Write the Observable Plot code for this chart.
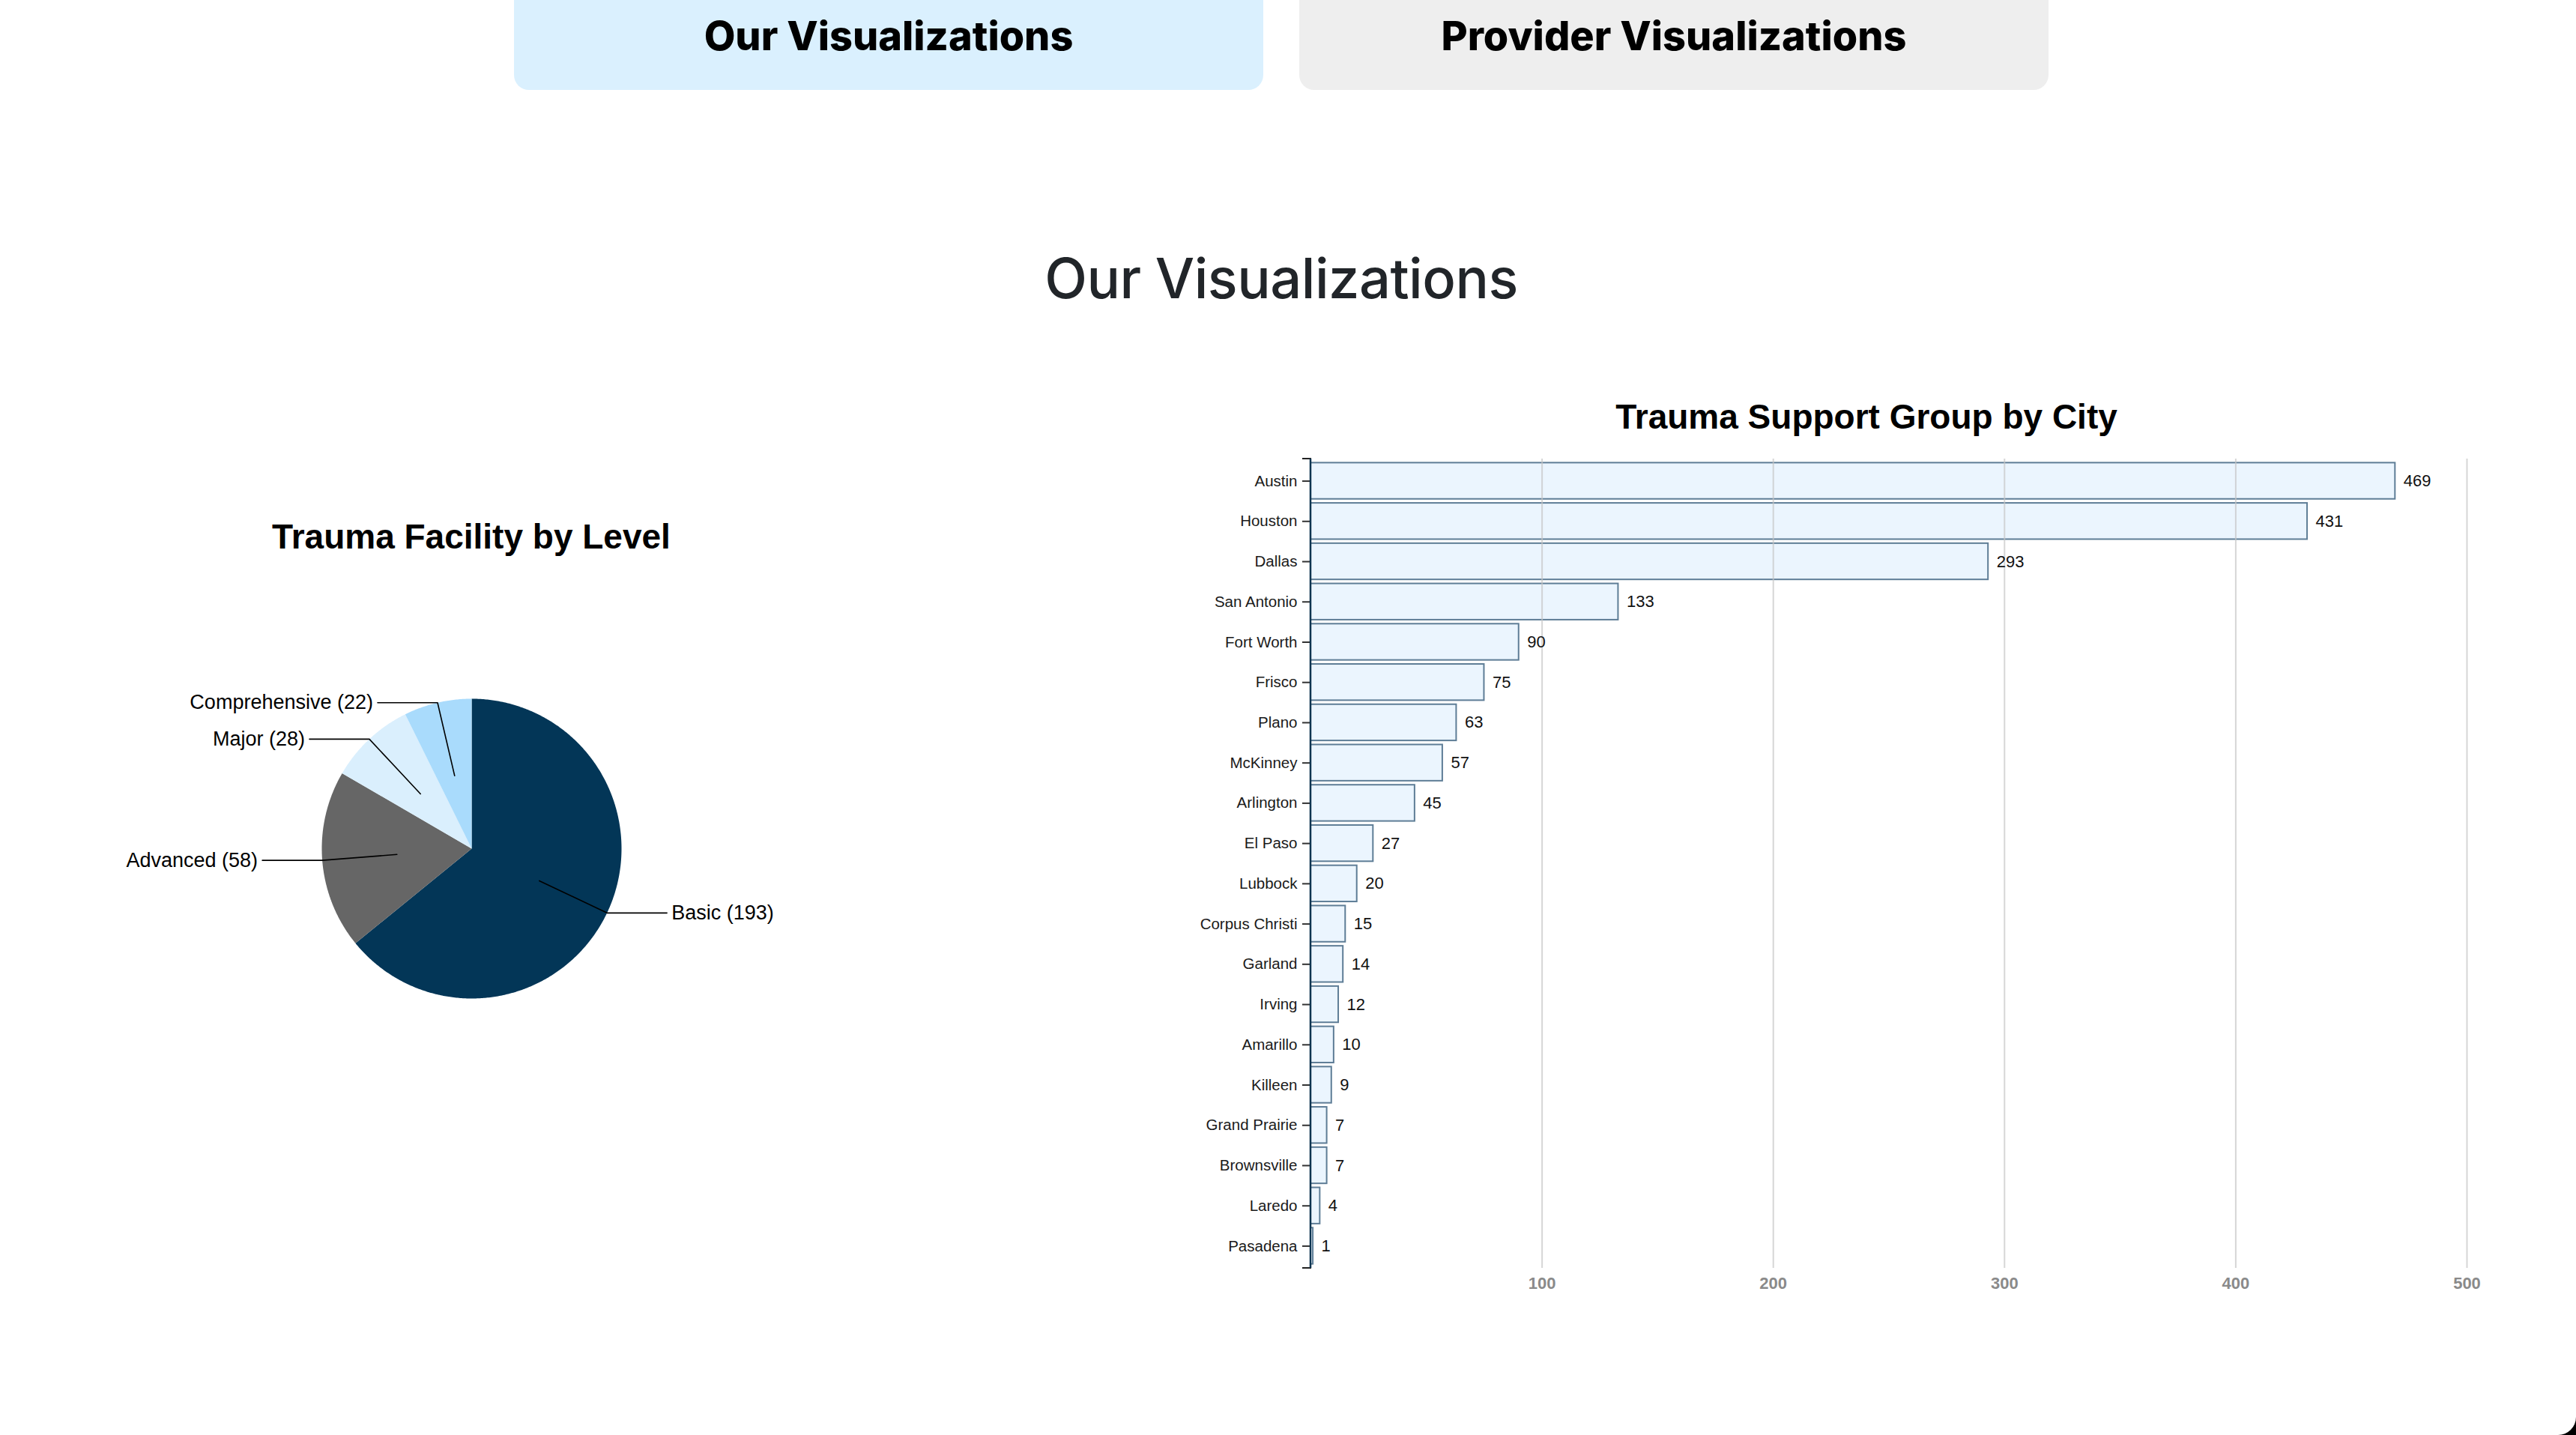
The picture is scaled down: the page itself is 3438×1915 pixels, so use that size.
<!DOCTYPE html>
<html>
<head>
<meta charset="utf-8">
<script src="https://cdn.jsdelivr.net/npm/d3@7"></script>
<script src="https://cdn.jsdelivr.net/npm/@observablehq/plot@0.6"></script>
<style>
  html, body { margin: 0; padding: 0; background: #000; }
  #page { position: relative; width: 3438px; height: 1915px; background: #fff; overflow: hidden; border-bottom-right-radius: 24px; }
  .abs { position: absolute; }
  .btn { position: absolute; top: -30px; height: 150px; width: 1000px; border-radius: 20px; }
  .btntext { position: absolute; left: 0; width: 1000px; text-align: center; font-family: Inter, "Noto Sans", sans-serif; font-weight: 800; font-size: 54px; line-height: 1; color: #000; top: 51px; }
  .heading { font-family: Inter, "Liberation Sans", Arial, sans-serif; font-weight: 500; font-size: 74px; line-height: 1; color: #212529; text-align: center; letter-spacing: -0.5px; }
  .ctitle { font-family: "Liberation Sans", Arial, sans-serif; font-weight: bold; font-size: 46px; line-height: 1; color: #000; text-align: center; }
</style>
</head>
<body>
<div id="page">
  <div class="btn" style="left:686px; background:#daf0fe;"><div class="btntext">Our Visualizations</div></div>
  <div class="btn" style="left:1734px; background:#eeeeee;"><div class="btntext">Provider Visualizations</div></div>
  <div class="abs heading" style="left:1210px; width:1000px; top:334px;">Our Visualizations</div>
  <div class="abs ctitle" style="left:229px; width:800px; top:693px;">Trauma Facility by Level</div>
  <div class="abs ctitle" style="left:1991px; width:1000px; top:533px;">Trauma Support Group by City</div>
  <div id="pie" class="abs" style="left:229px; top:852px;"></div>
  <div id="bars" class="abs" style="left:1500px; top:560px;"></div>
</div>
<script>
// ---------- data ----------
const levels = ["Basic", "Advanced", "Major", "Comprehensive"];
const levelCounts = [193, 58, 28, 22];
const levelColors = ["#033657", "#666666", "#daeffd", "#a9dbfc"];

const cities = ["Austin", "Houston", "Dallas", "San Antonio", "Fort Worth", "Frisco", "Plano", "McKinney", "Arlington", "El Paso", "Lubbock", "Corpus Christi", "Garland", "Irving", "Amarillo", "Killeen", "Grand Prairie", "Brownsville", "Laredo", "Pasadena"];
const cityCounts = [469, 431, 293, 133, 90, 75, 63, 57, 45, 27, 20, 15, 14, 12, 10, 9, 7, 7, 4, 1];
const xTicks = [100, 200, 300, 400, 500];

// ---------- pie chart ----------
const pieData = levels.map((level, i) => ({level, count: levelCounts[i]}));
const arcs = d3.pie().sort(null).value(d => d.count)(pieData);

// polygon outline for each slice (unit radius, angle clockwise from 12 o'clock)
const slicePoints = [];
arcs.forEach(a => {
  const lv = a.data.level;
  slicePoints.push({level: lv, x: 0, y: 0});
  const n = Math.max(2, Math.ceil((a.endAngle - a.startAngle) / (Math.PI / 360)));
  for (let k = 0; k <= n; ++k) {
    const t = a.startAngle + (a.endAngle - a.startAngle) * k / n;
    slicePoints.push({level: lv, x: Math.sin(t), y: Math.cos(t)});
  }
  slicePoints.push({level: lv, x: 0, y: 0});
});

const leaderPoints = [];
const labelData = [];
arcs.forEach(a => {
  const mid = (a.startAngle + a.endAngle) / 2;
  const right = mid < Math.PI;
  const ox = Math.sin(mid), oy = Math.cos(mid);
  const ex = ox + (right ? 0.4 : -0.4);
  leaderPoints.push({level: a.data.level, x: 0.5 * ox, y: 0.5 * oy});
  leaderPoints.push({level: a.data.level, x: ox, y: oy});
  leaderPoints.push({level: a.data.level, x: ex, y: oy});
  labelData.push({x: ex, y: oy, right, text: `${a.data.level} (${a.data.count})`});
});

const pie = Plot.plot({
  width: 800,
  height: 560,
  margin: 0,
  style: {background: "transparent", overflow: "visible", fontFamily: "'Liberation Sans', Arial, sans-serif"},
  x: {domain: [-2, 2], axis: null},
  y: {domain: [-1.4, 1.4], axis: null},
  color: {domain: levels, range: levelColors},
  marks: [
    Plot.line(slicePoints, {x: "x", y: "y", z: "level", fill: "level", stroke: "none", curve: "linear"}),
    Plot.line(leaderPoints, {x: "x", y: "y", z: "level", stroke: "#000", strokeWidth: 1.6}),
    Plot.text(labelData.filter(d => d.right), {x: "x", y: "y", text: "text", textAnchor: "start", dx: 6, fontSize: 27, fill: "#000"}),
    Plot.text(labelData.filter(d => !d.right), {x: "x", y: "y", text: "text", textAnchor: "end", dx: -6, fontSize: 27, fill: "#000"})
  ]
});
document.getElementById("pie").appendChild(pie);

// ---------- bar chart ----------
const cityData = cities.map((city, i) => ({city, count: cityCounts[i]}));

function yDomainLine(...args) {
  const scales = args.find(a => a && typeof a.x === "function");
  const dims = args.find(a => a && typeof a === "object" && "marginTop" in a);
  const x0 = scales.x(0);
  const top = dims.marginTop, bottom = dims.height - dims.marginBottom;
  const g = d3.create("svg:g");
  g.append("path")
    .attr("d", `M${x0 - 11},${top}H${x0}V${bottom}H${x0 - 11}`)
    .attr("fill", "none").attr("stroke", "#222").attr("stroke-width", 2);
  g.append("path")
    .attr("d", `M${x0},${top}V${bottom}`)
    .attr("fill", "none").attr("stroke", "#0e3450").attr("stroke-width", 2.5);
  return g.node();
}

const bars = Plot.plot({
  width: 1900,
  height: 1200,
  marginLeft: 249,
  marginRight: 108,
  marginTop: 52,
  marginBottom: 68,
  style: {background: "transparent", overflow: "visible", color: "#111", fontFamily: "'Liberation Sans', Arial, sans-serif"},
  x: {domain: [0, 500], axis: null},
  y: {domain: cities, padding: 0.1, round: false, axis: null},
  marks: [
    Plot.barX(cityData, {x: "count", y: "city", fill: "#ebf5fe", stroke: "#5e7d96", strokeWidth: 2}),
    Plot.gridX(xTicks, {stroke: "#c4c4c4", strokeOpacity: 0.7, strokeWidth: 2}),
    Plot.text(cityData, {x: "count", y: "city", text: d => String(d.count), dx: 11, textAnchor: "start", fontSize: 22, fill: "#111"}),
    Plot.axisY({tickSize: 11, tickPadding: 7, fontSize: 20.5, stroke: "#333", strokeWidth: 2, fill: "#1a1a1a", label: null}),
    Plot.axisX({ticks: xTicks, tickSize: 0, tickPadding: 12, fontSize: 22, fontWeight: "bold", fill: "#8a8a8a", label: null}),
    yDomainLine
  ]
});
document.getElementById("bars").appendChild(bars);
</script>
</body>
</html>
